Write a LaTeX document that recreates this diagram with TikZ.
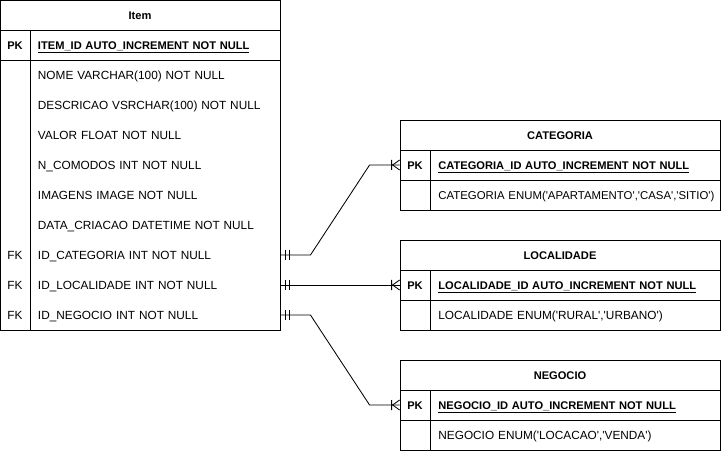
\documentclass[tikz,border=0pt]{standalone}
\usepackage{fontspec}
\setmainfont{Liberation Sans}
\usetikzlibrary{positioning}

\tikzset{
	onemark/.pic={\draw (5,-5) -- (5,5) (9,-5) -- (9,5);},
	manymark/.pic={\draw (-8,-5) -- (-8,5) (-7,0) -- (0,-5) (-7,0) -- (0,5);},
	boldtext/.style={font=\fontsize{7.9}{10}\selectfont\bfseries}
}
\newcommand{\q}{\textquotesingle}

\begin{document}
\begin{tikzpicture}[x=0.025cm, y=-0.025cm, line width=0.6pt,
	font=\fontsize{8.4}{10}\selectfont]
	\useasboundingbox (0,0) rectangle (721,451);
	% table frames
	\draw (0,0) rectangle (280,330) (0,30) -- (280,30) (0,60) -- (280,60) (30,30) -- (30,330);
	\foreach \y in {120,240,360} {
		\draw (400,\y) rectangle (720,\y+90) (400,\y+30) -- (720,\y+30)
			(400,\y+60) -- (720,\y+60) (430,\y+30) -- (430,\y+90);
	}
	
	\begin{scope}[every node/.style={boldtext, text height=5.9pt, text depth=0pt, inner sep=0pt}]
	\node (IT) at (140,15) {Item};
	\node (CT) at (560,135) {CATEGORIA};
	\node (LT) at (560,255) {LOCALIDADE};
	\node (NT) at (560,375) {NEGOCIO};
	\end{scope}
	
	\begin{scope}[every node/.style={minimum width=0.75cm, minimum height=0.75cm, inner sep=0pt,
		text height=5.9pt, text depth=0pt}]
	\node[boldtext] (IPK) at (15,45) {PK};
	\node (IKC) at (15,255) {FK};
	\node (IKL) at (15,285) {FK};
	\node (IKN) at (15,315) {FK};
	\node[boldtext] (CPK) at (415,165) {PK};
	\node[boldtext] (LPK) at (415,285) {PK};
	\node[boldtext] (NPK) at (415,405) {PK};
	\end{scope}
	
	\begin{scope}[every node/.style={text width=5.85cm, align=left, inner xsep=0.2cm,
		inner ysep=0pt, minimum height=0.75cm, text height=5.9pt, text depth=0pt}]
	\node[boldtext] (IID) at (155,45) {\underline{ITEM\_ID AUTO\_INCREMENT NOT NULL}};
	\node (INO) at (155,75) {NOME VARCHAR(100) NOT NULL};
	\node (IDE) at (155,105) {DESCRICAO VSRCHAR(100) NOT NULL};
	\node (IVA) at (155,135) {VALOR FLOAT NOT NULL};
	\node (ICO) at (155,165) {N\_COMODOS INT NOT NULL};
	\node (IIM) at (155,195) {IMAGENS IMAGE NOT NULL};
	\node (IDA) at (155,225) {DATA\_CRIACAO DATETIME NOT NULL};
	\node (IFC) at (155,255) {ID\_CATEGORIA INT NOT NULL};
	\node (IFL) at (155,285) {ID\_LOCALIDADE INT NOT NULL};
	\node (IFN) at (155,315) {ID\_NEGOCIO INT NOT NULL};
	\end{scope}
	
	\begin{scope}[every node/.style={anchor=west, text width=7.6cm, align=left, inner xsep=0.2cm,
		inner ysep=0pt, minimum height=0.75cm, text height=5.9pt, text depth=0pt}]
	\node[boldtext] (CID) at (430,165) {\underline{CATEGORIA\_ID AUTO\_INCREMENT NOT NULL}};
	\node[font=\fontsize{8.1}{10}\selectfont] (CEN) at (430,195)
		{CATEGORIA ENUM(\q APARTAMENTO\q,\q CASA\q,\q SITIO\q)};
	\node[boldtext] (LID) at (430,285) {\underline{LOCALIDADE\_ID AUTO\_INCREMENT NOT NULL}};
	\node (LEN) at (430,315) {LOCALIDADE ENUM(\q RURAL\q,\q URBANO\q)};
	\node[boldtext] (NID) at (430,405) {\underline{NEGOCIO\_ID AUTO\_INCREMENT NOT NULL}};
	\node (NEN) at (430,435) {NEGOCIO ENUM(\q LOCACAO\q,\q VENDA\q)};
	\end{scope}
	
	\begin{scope}[every path/.style={draw=black, line width=0.6pt}]
	\path (IFC.east) -- ++(30,0) -- ([xshift=-0.75cm]CPK.west) -- (CPK.west);
	\path (IFL.east) -- (LPK.west);
	\path (IFN.east) -- ++(30,0) -- ([xshift=-0.75cm]NPK.west) -- (NPK.west);
	\pic at (IFC.east) {onemark};
	\pic at (IFL.east) {onemark};
	\pic at (IFN.east) {onemark};
	\pic at (CPK.west) {manymark};
	\pic at (LPK.west) {manymark};
	\pic at (NPK.west) {manymark};
	\end{scope}
\end{tikzpicture}
\end{document}
